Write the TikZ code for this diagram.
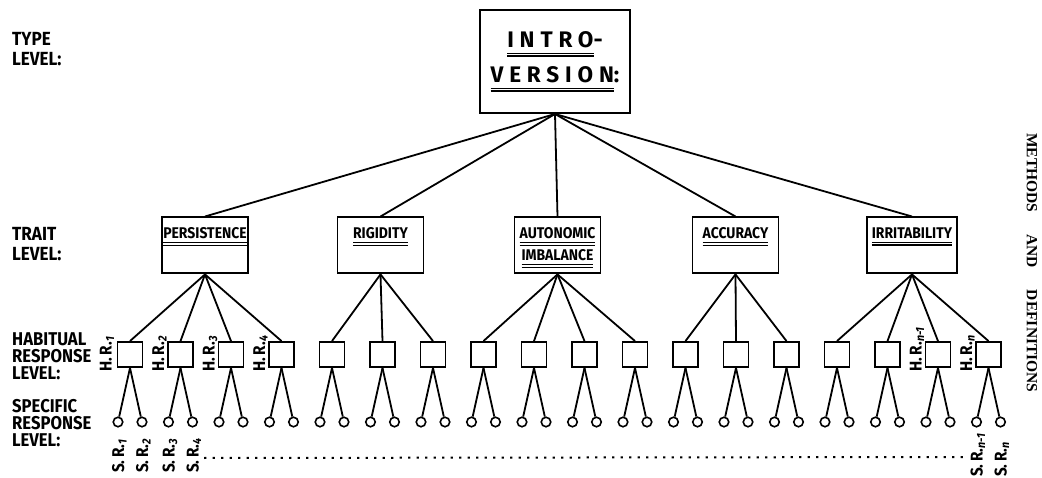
\documentclass[tikz,border=0pt]{standalone}
\usepackage{fontspec}
\usetikzlibrary{calc}
\newfontfamily\lvlfamily{Fira Sans}[FakeStretch=0.9]
\newfontfamily\introfamily{Fira Sans}[LetterSpace=26]
\newfontfamily\headfamily{Liberation Serif}
\newcommand{\dbl}[1]{\vtop{\hbox{#1}\kern0.22em\hrule height1.3pt\kern1.3pt\hrule height1.3pt}}

\begin{document}
\begin{tikzpicture}[
        x=1pt, y=1pt,
        intro/.style={
            draw,
            line width=2pt,
            minimum width=150pt,
            minimum height=103pt,
            align=center,
            font=\introfamily\bfseries\fontsize{22.5}{35}\selectfont,
        },
        trait/.style={
            draw,
            line width=1.9pt,
            minimum width=86pt,
            inner xsep=1pt,
            inner ysep=0pt,
            anchor=north,
            text height=21pt,
            text depth=35pt,
            align=center,
            font=\lvlfamily\bfseries\fontsize{15.5}{22}\selectfont,
        },
        habit/.style={
            draw,
            line width=1.9pt,
            minimum size=25pt,
            inner sep=0pt,
        },
        specresp/.style={
            draw,
            circle,
            line width=1.6pt,
            minimum size=9.5pt,
            inner sep=0pt,
        },
        lvltext/.style={
            anchor=north west,
            inner sep=0pt,
            align=left,
            font=\lvlfamily\bfseries\fontsize{19}{20}\selectfont,
        },
        rlabel/.style={
            rotate=90,
            anchor=base west,
            inner sep=0pt,
            font=\lvlfamily\bfseries\fontsize{17}{17}\selectfont,
        },
        conn/.style={
            line width=1.8pt,
        },
    ]

    \useasboundingbox (0,0) rectangle (1042,-478);

    % levels
    \node[lvltext] (typelvl) at (12,-32) {TYPE\\LEVEL:};
    \node[lvltext] (traitlvl) at (12,-227) {TRAIT\\LEVEL:};
    \node[lvltext, font=\lvlfamily\bfseries\fontsize{18.5}{17}\selectfont] (habitlvl) at (12,-332) {HABITUAL\\RESPONSE\\LEVEL:};
    \node[lvltext, font=\lvlfamily\bfseries\fontsize{18.5}{17}\selectfont] (speclvl) at (12,-399) {SPECIFIC\\RESPONSE\\LEVEL:};

    % type
    \node[intro] (intro) at (555,-61.5) {\dbl{INTRO}-\\\dbl{VERSION}:};

    % traits
    \node[trait] (t0) at (205,-216.5) {\dbl{PERSISTENCE}};
    \node[trait] (t1) at (380.5,-216.5) {\dbl{RIGIDITY}};
    \node[trait, text height=43pt, text depth=13pt] (t2) at (557.5,-216.5) {\dbl{AUTONOMIC}\\\dbl{IMBALANCE}};
    \node[trait] (t3) at (735.5,-216.5) {\dbl{ACCURACY}};
    \node[trait, minimum width=90pt] (t4) at (912,-216.5) {\dbl{IRRITABILITY}};

    % habitual responses
    \node[habit] (h0) at (130,-354.5) {};
    \node[habit] (h1) at (180.5,-354.5) {};
    \node[habit] (h2) at (231,-354.5) {};
    \node[habit] (h3) at (281.5,-354.5) {};
    \node[habit] (h4) at (332,-354.5) {};
    \node[habit] (h5) at (382.5,-354.5) {};
    \node[habit] (h6) at (433,-354.5) {};
    \node[habit] (h7) at (483.5,-354.5) {};
    \node[habit] (h8) at (534,-354.5) {};
    \node[habit] (h9) at (584.5,-354.5) {};
    \node[habit] (h10) at (635,-354.5) {};
    \node[habit] (h11) at (685.5,-354.5) {};
    \node[habit] (h12) at (736,-354.5) {};
    \node[habit] (h13) at (786.5,-354.5) {};
    \node[habit] (h14) at (837,-354.5) {};
    \node[habit] (h15) at (887.5,-354.5) {};
    \node[habit] (h16) at (938,-354.5) {};
    \node[habit] (h17) at (988.5,-354.5) {};

    % specific responses
    \node[specresp] (s0) at (118,-422) {};
    \node[specresp] (s1) at (142,-422) {};
    \node[specresp] (s2) at (168.5,-422) {};
    \node[specresp] (s3) at (192.5,-422) {};
    \node[specresp] (s4) at (219,-422) {};
    \node[specresp] (s5) at (243,-422) {};
    \node[specresp] (s6) at (269.5,-422) {};
    \node[specresp] (s7) at (293.5,-422) {};
    \node[specresp] (s8) at (320,-422) {};
    \node[specresp] (s9) at (344,-422) {};
    \node[specresp] (s10) at (370.5,-422) {};
    \node[specresp] (s11) at (394.5,-422) {};
    \node[specresp] (s12) at (421,-422) {};
    \node[specresp] (s13) at (445,-422) {};
    \node[specresp] (s14) at (471.5,-422) {};
    \node[specresp] (s15) at (495.5,-422) {};
    \node[specresp] (s16) at (522,-422) {};
    \node[specresp] (s17) at (546,-422) {};
    \node[specresp] (s18) at (572.5,-422) {};
    \node[specresp] (s19) at (596.5,-422) {};
    \node[specresp] (s20) at (623,-422) {};
    \node[specresp] (s21) at (647,-422) {};
    \node[specresp] (s22) at (673.5,-422) {};
    \node[specresp] (s23) at (697.5,-422) {};
    \node[specresp] (s24) at (724,-422) {};
    \node[specresp] (s25) at (748,-422) {};
    \node[specresp] (s26) at (774.5,-422) {};
    \node[specresp] (s27) at (798.5,-422) {};
    \node[specresp] (s28) at (825,-422) {};
    \node[specresp] (s29) at (849,-422) {};
    \node[specresp] (s30) at (875.5,-422) {};
    \node[specresp] (s31) at (899.5,-422) {};
    \node[specresp] (s32) at (926,-422) {};
    \node[specresp] (s33) at (950,-422) {};
    \node[specresp] (s34) at (976.5,-422) {};
    \node[specresp] (s35) at (1000.5,-422) {};

    % labels
    \node[rlabel] (hl0) at ($(h0.south west)+(-5,-4)$) {H.\,R.\textsubscript{\textit{1}}};
    \node[rlabel] (hl1) at ($(h1.south west)+(-3,-4)$) {H.\,R.\textsubscript{\textit{2}}};
    \node[rlabel] (hl2) at ($(h2.south west)+(-3,-4)$) {H.\,R.\textsubscript{\textit{3}}};
    \node[rlabel] (hl3) at ($(h3.south west)+(-3,-4)$) {H.\,R.\textsubscript{\textit{4}}};
    \node[rlabel] (hl16) at ($(h16.south west)+(-3,-4)$) {H.\,R.\textsubscript{\textit{n-1}}};
    \node[rlabel] (hl17) at ($(h17.south west)+(-3,-4)$) {H.\,R.\textsubscript{\textit{n}}};
    \node[rlabel] (sl0) at ($(s0)+(6,-51)$) {S.\,R.\textsubscript{\textit{1}}};
    \node[rlabel] (sl1) at ($(s1)+(6,-51)$) {S.\,R.\textsubscript{\textit{2}}};
    \node[rlabel] (sl2) at ($(s2)+(6,-51)$) {S.\,R.\textsubscript{\textit{3}}};
    \node[rlabel] (sl3) at ($(s3)+(6,-51)$) {S.\,R.\textsubscript{\textit{4}}};
    \node[rlabel] (sl34) at ($(s34)+(6,-55)$) {S.\,R.\textsubscript{\textit{n-1}}};
    \node[rlabel] (sl35) at ($(s35)+(6,-55)$) {S.\,R.\textsubscript{\textit{n}}};

    \coordinate (dotl) at (204,-458);
    \coordinate (dotr) at (966,-457);
    \draw[line width=2pt, dash pattern=on 2.4pt off 6.1pt] (dotl) -- (dotr);

    \node[rotate=-90, anchor=west, inner sep=0pt, font=\headfamily\bfseries\fontsize{15.5}{15.5}\selectfont] (runhead) at (1032,-133) {METHODS\hspace{22pt}AND\hspace{22pt}DEFINITIONS};

    % type to traits
    \begin{scope}[conn]
        \draw (intro.south) -- (t0.north);
        \draw (intro.south) -- (t1.north);
        \draw (intro.south) -- (t2.north);
        \draw (intro.south) -- (t3.north);
        \draw (intro.south) -- (t4.north);
    \end{scope}

    % traits to habits
    \begin{scope}[conn]
        \draw (t0.south) -- (h0.north);
        \draw (t0.south) -- (h1.north);
        \draw (t0.south) -- (h2.north);
        \draw (t0.south) -- (h3.north);
        \draw (t1.south) -- (h4.north);
        \draw (t1.south) -- (h5.north);
        \draw (t1.south) -- (h6.north);
        \draw (t2.south) -- (h7.north);
        \draw (t2.south) -- (h8.north);
        \draw (t2.south) -- (h9.north);
        \draw (t2.south) -- (h10.north);
        \draw (t3.south) -- (h11.north);
        \draw (t3.south) -- (h12.north);
        \draw (t3.south) -- (h13.north);
        \draw (t4.south) -- (h14.north);
        \draw (t4.south) -- (h15.north);
        \draw (t4.south) -- (h16.north);
        \draw (t4.south) -- (h17.north);
    \end{scope}

    % habits to specific responses
    \begin{scope}[conn]
        \draw (h0.south) -- (s0);
        \draw (h0.south) -- (s1);
        \draw (h1.south) -- (s2);
        \draw (h1.south) -- (s3);
        \draw (h2.south) -- (s4);
        \draw (h2.south) -- (s5);
        \draw (h3.south) -- (s6);
        \draw (h3.south) -- (s7);
        \draw (h4.south) -- (s8);
        \draw (h4.south) -- (s9);
        \draw (h5.south) -- (s10);
        \draw (h5.south) -- (s11);
        \draw (h6.south) -- (s12);
        \draw (h6.south) -- (s13);
        \draw (h7.south) -- (s14);
        \draw (h7.south) -- (s15);
        \draw (h8.south) -- (s16);
        \draw (h8.south) -- (s17);
        \draw (h9.south) -- (s18);
        \draw (h9.south) -- (s19);
        \draw (h10.south) -- (s20);
        \draw (h10.south) -- (s21);
        \draw (h11.south) -- (s22);
        \draw (h11.south) -- (s23);
        \draw (h12.south) -- (s24);
        \draw (h12.south) -- (s25);
        \draw (h13.south) -- (s26);
        \draw (h13.south) -- (s27);
        \draw (h14.south) -- (s28);
        \draw (h14.south) -- (s29);
        \draw (h15.south) -- (s30);
        \draw (h15.south) -- (s31);
        \draw (h16.south) -- (s32);
        \draw (h16.south) -- (s33);
        \draw (h17.south) -- (s34);
        \draw (h17.south) -- (s35);
    \end{scope}
\end{tikzpicture}
\end{document}
